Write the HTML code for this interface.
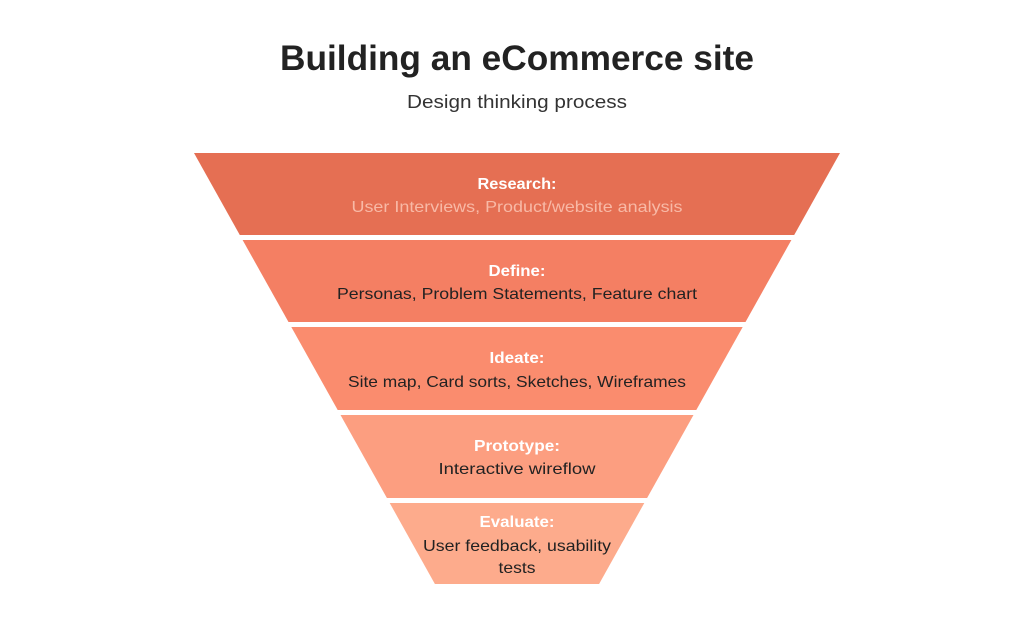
<!DOCTYPE html>
<html><head><meta charset="utf-8"><style>
html,body{margin:0;padding:0;background:#fff}
svg{display:block}
text{font-family:"Liberation Sans",sans-serif}
</style></head><body>
<svg width="1024" height="630" viewBox="0 0 1024 630" xmlns="http://www.w3.org/2000/svg">
<rect width="1024" height="630" fill="#fff"/>
<text x="517" y="70" text-anchor="middle" font-size="35" font-weight="bold" fill="#222" textLength="474" lengthAdjust="spacingAndGlyphs">Building an eCommerce site</text>
<text x="517" y="108" text-anchor="middle" font-size="18" fill="#333" textLength="220" lengthAdjust="spacingAndGlyphs">Design thinking process</text>
<polygon points="194,153 840,153 794.2,235 239.8,235" fill="#E56F53"/>
<polygon points="242.6,240 791.4,240 745.5,322 288.5,322" fill="#F47F63"/>
<polygon points="291.3,327 742.7,327 696.3,410 337.7,410" fill="#FA8C6E"/>
<polygon points="340.5,415 693.5,415 647.1,498 386.9,498" fill="#FC9E80"/>
<polygon points="389.7,503 644.3,503 599.1,584 434.9,584" fill="#FDAB8C"/>
<g text-anchor="middle" font-size="16">
<text x="517" y="189" font-weight="bold" fill="#fff" textLength="79" lengthAdjust="spacingAndGlyphs">Research:</text>
<text x="517" y="212" fill="#F8B9A6" textLength="331" lengthAdjust="spacingAndGlyphs">User Interviews, Product/website analysis</text>
<text x="517" y="276" font-weight="bold" fill="#fff" textLength="57" lengthAdjust="spacingAndGlyphs">Define:</text>
<text x="517" y="299" fill="#222" textLength="360" lengthAdjust="spacingAndGlyphs">Personas, Problem Statements, Feature chart</text>
<text x="517" y="363" font-weight="bold" fill="#fff" textLength="55" lengthAdjust="spacingAndGlyphs">Ideate:</text>
<text x="517" y="387" fill="#222" textLength="338" lengthAdjust="spacingAndGlyphs">Site map, Card sorts, Sketches, Wireframes</text>
<text x="517" y="451" font-weight="bold" fill="#fff" textLength="86" lengthAdjust="spacingAndGlyphs">Prototype:</text>
<text x="517" y="474" fill="#222" textLength="157" lengthAdjust="spacingAndGlyphs">Interactive wireflow</text>
<text x="517" y="527" font-weight="bold" fill="#fff" textLength="75" lengthAdjust="spacingAndGlyphs">Evaluate:</text>
<text x="517" y="551" fill="#222" textLength="188" lengthAdjust="spacingAndGlyphs">User feedback, usability</text>
<text x="517" y="573" fill="#222" textLength="37" lengthAdjust="spacingAndGlyphs">tests</text>
</g>
</svg>
</body></html>
